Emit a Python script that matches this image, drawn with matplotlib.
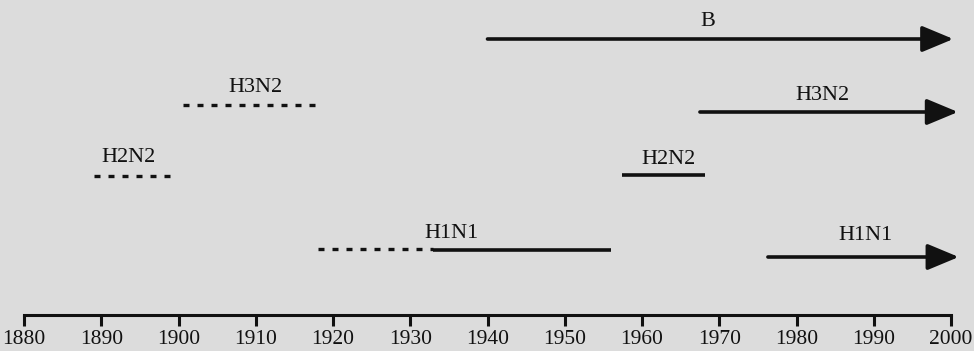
import matplotlib.pyplot as plt

# timeline of influenza subtypes (years)
names = ["B", "H3N2", "H3N2", "H2N2", "H2N2", "H1N1", "H1N1", "H1N1"]
starts = [1940, 1900.6, 1967.5, 1889, 1957.4, 1918, 1933, 1976.3]
ends = [2000.3, 1918, 2000.9, 1899, 1968.2, 1933, 1956, 2001]
styles = ["arrow", "dotted", "arrow", "dotted", "solid", "dotted", "solid", "arrow"]
rows = [39, 105, 112, 176, 175, 249, 249.5, 257]
label_x = [1968.5, 1910, 1983.4, 1893.5, 1963.4, 1935.4, None, 1988.9]
label_row = [22, 87, 96, 158, 159, 233, None, 235]

years = list(range(1880, 2001, 10))

plt.rcParams['font.family'] = ['Liberation Serif', 'DejaVu Serif']

fig = plt.figure(figsize=(9.74, 3.51), dpi=100)
fig.patch.set_facecolor('#dcdcdc')
ax = fig.add_axes([0, 0, 1, 1])
ax.set_facecolor('#dcdcdc')
ppy = 927 / 120  # pixels per year
ax.set_xlim(1880 - 24 / ppy, 2000 + 23 / ppy)
ax.set_ylim(351, 0)

ink = '#111111'
for name, x0, x1, st, y, lx, ly in zip(names, starts, ends, styles, rows, label_x, label_row):
    if st == "arrow":
        ax.annotate("", xy=(x1, y), xytext=(x0, y),
                    arrowprops=dict(arrowstyle='-|>,head_length=1.2,head_width=0.5',
                                    mutation_scale=16, lw=2.6, color=ink,
                                    shrinkA=0, shrinkB=0))
    elif st == "dotted":
        ax.plot([x0, x1], [y, y], color=ink, lw=2.4, linestyle=(0, (1.8, 2.4)),
                dash_capstyle='butt')
    else:
        ax.plot([x0, x1], [y, y], color=ink, lw=2.6, solid_capstyle='butt')
    if lx is not None:
        ax.text(lx, ly, name, ha='center', va='center', fontsize=16, color=ink)

# time axis
for s in ['top', 'left', 'right']:
    ax.spines[s].set_visible(False)
ax.spines['bottom'].set_position(('data', 315))
ax.spines['bottom'].set_bounds(1880, 2000)
ax.spines['bottom'].set_linewidth(2.2)
ax.spines['bottom'].set_color(ink)
ax.set_xticks(years)
ax.set_xticklabels([str(y) for y in years])
ax.tick_params(axis='x', direction='out', length=8, width=2.2, color=ink,
               labelsize=15.5, labelcolor=ink, pad=3)
ax.set_yticks([])

fig.savefig('out.png', dpi=100, facecolor=fig.get_facecolor())
